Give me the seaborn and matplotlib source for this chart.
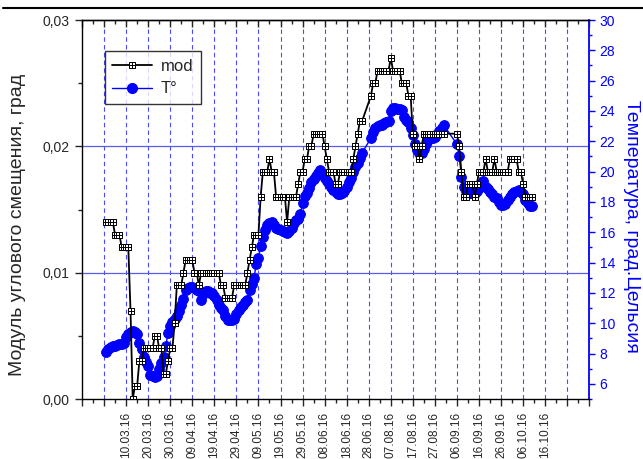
import numpy as np
import pandas as pd
import matplotlib
matplotlib.use('Agg')
import matplotlib.pyplot as plt
from matplotlib.path import Path
from matplotlib.lines import Line2D
from matplotlib.ticker import MultipleLocator, FixedLocator, FixedFormatter, FuncFormatter
import seaborn as sns

sns.set_style('ticks')
plt.rcParams['font.family'] = ['Liberation Sans', 'DejaVu Sans']

# day index: 0 = left edge of the axis, ticks every 10 days
days = list(range(11, 128)) + list(range(131, 165)) + list(range(170, 205))

# angular displacement modulus, in thousandths of a degree
mod_x1000 = [
    14, 14, 14, 14, 13, 13, 13, 12, 12, 12, 12, 7, 0, 1, 1, 3, 3, 4, 4, 4,
    4, 4, 5, 5, 4, 4, 2, 2, 3, 4, 4, 6, 9, 9, 9, 10, 11, 11, 11, 11,
    10, 10, 9, 10, 10, 10, 10, 10, 10, 10, 10, 10, 9, 9, 8, 8, 8, 8, 9, 9,
    9, 9, 9, 9, 10, 11, 12, 13, 13, 13, 16, 18, 18, 18, 19, 18, 18, 16, 16, 16,
    16, 16, 14, 16, 16, 16, 16, 17, 18, 18, 19, 19, 20, 20, 21, 21, 21, 21, 21, 20,
    19, 18, 18, 18, 17, 17, 18, 18, 18, 18, 18, 18, 19, 20, 21, 22, 22,
    24, 25, 25, 26, 26, 26, 26, 26, 26, 27, 26, 26, 26, 26, 25, 25, 25, 24, 24,
    21, 20, 20, 19, 20, 21, 21, 21, 21, 21, 21, 21, 21, 21, 21,
    21, 20, 18, 16, 16, 17, 17, 17, 16, 17, 18, 18, 18, 19, 18, 18, 18, 19, 18, 18,
    18, 18, 18, 18, 19, 19, 19, 19, 18, 18, 17, 16, 16, 16, 16,
]

# temperature, deg C
temp = [
    8.1, 8.3, 8.4, 8.5, 8.5, 8.55, 8.6, 8.6, 8.7, 9.1,
    9.3, 9.45, 9.5, 9.4, 9.3, 8.7, 8.3, 7.8, 7.46, 7.2,
    6.6, 6.5, 6.45, 6.5, 7.0, 7.35, 7.8, 8.5, 9.37, 9.8,
    10.1, 10.3, 10.45, 10.8, 11.2, 11.6, 12.2, 12.3, 12.4, 12.4,
    12.3, 12.2, 12.1, 11.5, 11.9, 12.1, 12.1, 12.0, 12.0, 11.8,
    11.5, 11.2, 11.0, 10.87, 10.5, 10.2, 10.2, 10.2, 10.3, 10.6,
    10.9, 11.1, 11.2, 11.4, 11.53, 12.2, 12.6, 13.0, 13.9, 14.3,
    15.1, 15.7, 16.15, 16.5, 16.6, 16.7, 16.5, 16.3, 16.2, 16.15,
    16.1, 16.0, 15.97, 16.1, 16.26, 16.6, 16.8, 16.9, 17.2, 17.9,
    18.4, 18.6, 18.9, 19.3, 19.5, 19.7, 19.9, 20.1, 19.9, 19.6,
    19.4, 19.2, 19.0, 18.8, 18.65, 18.55, 18.5, 18.6, 18.7, 19.0,
    19.3, 19.6, 20.0, 20.3, 20.55, 20.9, 21.25,
    22.2, 22.6, 22.9, 23.0, 23.07, 23.1, 23.2, 23.3, 23.36, 24.0,
    24.2, 24.2, 24.15, 24.1, 24.06, 23.6, 23.4, 23.29, 22.9, 22.4,
    21.8, 21.4, 21.25, 21.2, 21.5, 21.8, 22.08, 22.2, 22.25, 22.3,
    22.5, 22.7, 22.9, 23.07,
    21.8, 21.05, 19.66, 19.0, 18.75, 18.65, 18.6, 18.57, 18.6, 18.75,
    18.9, 19.2, 19.4, 19.0, 18.85, 18.65, 18.5, 18.35, 18.24, 18.0,
    17.8, 17.8, 17.85, 18.1, 18.35, 18.5, 18.65, 18.75, 18.79, 18.65,
    18.5, 18.1, 17.9, 17.75, 17.7,
]

tick_days = list(range(0, 231, 10))
tick_labels = ['', '', '10.03.16', '20.03.16', '30.03.16', '09.04.16', '19.04.16',
               '29.04.16', '09.05.16', '19.05.16', '29.05.16', '08.06.16', '18.06.16',
               '28.06.16', '07.08.16', '17.08.16', '27.08.16', '06.09.16', '16.09.16',
               '26.09.16', '06.10.16', '16.10.16', '', '']

df = pd.DataFrame({'day': days, 'mod': np.array(mod_x1000) / 1000.0, 'temp': temp})

# square with a cross inside, like the Origin marker
box = Path([(-1, -1), (1, -1), (1, 1), (-1, 1), (-1, -1),
            (0, -1), (0, 1), (-1, 0), (1, 0)],
           [Path.MOVETO, Path.LINETO, Path.LINETO, Path.LINETO, Path.CLOSEPOLY,
            Path.MOVETO, Path.LINETO, Path.MOVETO, Path.LINETO])

BLUE = '#0000ff'
fig = plt.figure(figsize=(6.43, 4.59), dpi=100)
ax = fig.add_axes([0.1275, 0.1307, 0.789, 0.8257])
ax2 = ax.twinx()
ax.set_zorder(ax2.get_zorder() + 1)
ax.patch.set_visible(False)

# grid lines live on the lower (temperature) axes
ax2.grid(False)
for d in tick_days[1:-1]:
    ax2.axvline(d, color='#4a4aff', lw=0.8, ls=(0, (4, 3)), zorder=0)
for v in [0.01, 0.02]:
    ax2.plot([0, 1], [v, v], transform=ax.get_yaxis_transform(), color='#5a5af0', lw=0.9, zorder=0)

sns.lineplot(data=df, x='day', y='temp', ax=ax2, color=BLUE, lw=1, marker='o', ms=7,
             mec=BLUE, mfc=BLUE, estimator=None, sort=False, zorder=2)
sns.lineplot(data=df, x='day', y='mod', ax=ax, color='black', lw=1.3, marker=box, ms=5,
             mec='black', mfc='white', mew=0.7, estimator=None, sort=False, zorder=3)

ax.set_xlim(0, 230)
ax.set_ylim(0, 0.03)
ax2.set_ylim(5, 30)

ax.xaxis.set_major_locator(FixedLocator(tick_days))
ax.xaxis.set_major_formatter(FixedFormatter(tick_labels))
ax.xaxis.set_minor_locator(MultipleLocator(5))
ax.tick_params(axis='x', which='major', direction='out', length=5, width=1, labelsize=8.5,
               rotation=90, pad=4)
ax.tick_params(axis='x', which='minor', direction='out', length=3, width=1)
top = ax.secondary_xaxis('top')
top.set_xticks(tick_days)
top.xaxis.set_minor_locator(MultipleLocator(5))
top.tick_params(which='major', direction='in', length=5, width=1, labeltop=False)
top.tick_params(which='minor', direction='in', length=3, width=1)

ax.yaxis.set_major_locator(MultipleLocator(0.01))
ax.yaxis.set_minor_locator(MultipleLocator(0.005))
ax.yaxis.set_major_formatter(FuncFormatter(lambda v, p: f'{v:.2f}'.replace('.', ',')))
ax.tick_params(axis='y', which='major', direction='out', length=5, width=1, labelsize=10, pad=4)
ax.tick_params(axis='y', which='minor', direction='out', length=3, width=1)

ax2.yaxis.set_major_locator(MultipleLocator(2))
ax2.yaxis.set_minor_locator(MultipleLocator(1))
ax2.tick_params(axis='y', which='major', direction='out', length=4, width=1, colors=BLUE, labelsize=10)
ax2.tick_params(axis='y', which='minor', direction='out', length=2.5, width=1, colors=BLUE)

for s in ['left', 'bottom', 'top']:
    ax.spines[s].set_linewidth(1)
    ax.spines[s].set_color('black')
ax.spines['right'].set_visible(False)
for s in ['left', 'bottom', 'top']:
    ax2.spines[s].set_visible(False)
ax2.spines['right'].set_color(BLUE)
ax2.spines['right'].set_linewidth(1.3)
top.spines['top'].set_linewidth(1)

ax.set_xlabel('')
ax.set_ylabel('Модуль углового смещения, град', fontsize=14)
ax.yaxis.set_label_coords(-0.11, 0.46)
ax2.set_ylabel('Температура, град.Цельсия', fontsize=14, color=BLUE, rotation=270)
ax2.yaxis.set_label_coords(1.1, 0.455)

handles = [
    Line2D([], [], color='black', lw=1.3, marker=box, ms=5, mec='black', mfc='white', mew=0.7, label='mod'),
    Line2D([], [], color=BLUE, lw=1, marker='o', ms=7, mec=BLUE, mfc=BLUE, label='T°'),
]
leg = ax.legend(handles=handles, loc='upper left', bbox_to_anchor=(0.045, 0.917), fontsize=12,
                frameon=True, fancybox=False, edgecolor='black', handlelength=2.4,
                borderpad=0.45, labelspacing=0.45, handletextpad=0.5, borderaxespad=0)
leg.get_frame().set_linewidth(1)

fig.add_artist(Line2D([0.005, 1], [1 - 7.5 / 459] * 2, color='black', lw=1.5, transform=fig.transFigure))

fig.savefig('out.png', dpi=100, facecolor='white')
